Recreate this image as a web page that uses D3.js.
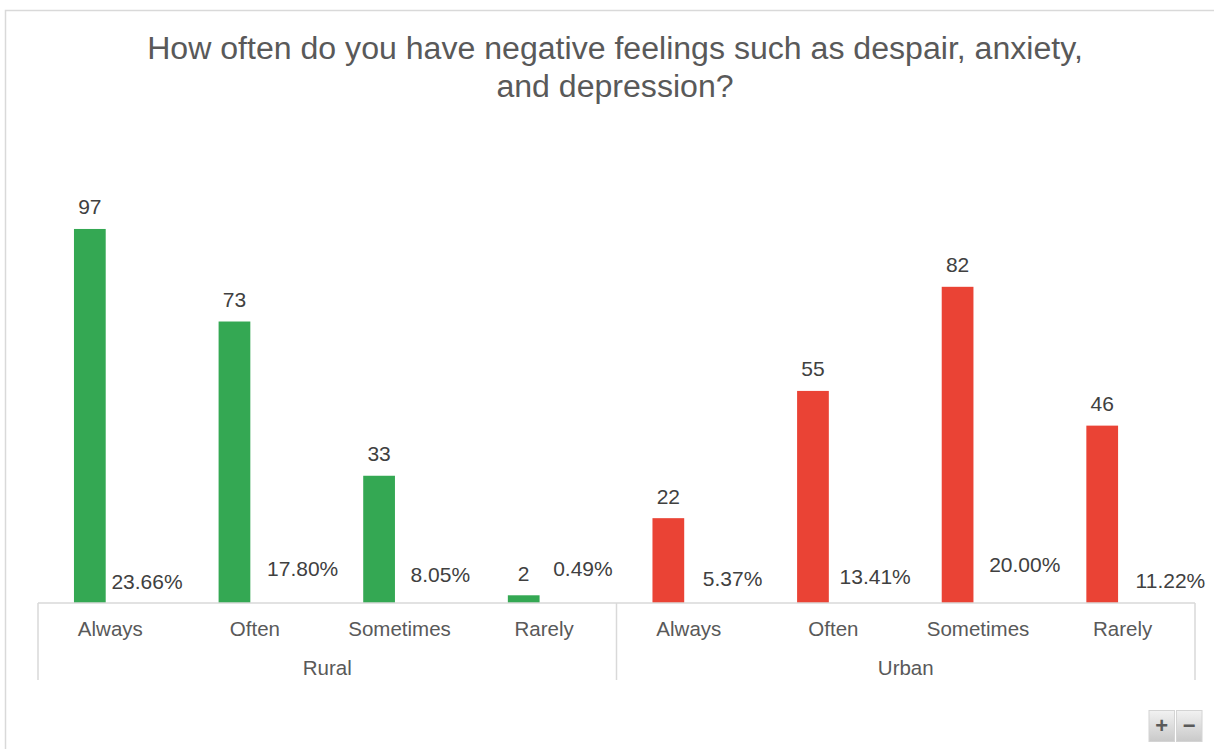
<!DOCTYPE html>
<html>
<head>
<meta charset="utf-8">
<script src="https://cdn.jsdelivr.net/npm/d3@7/dist/d3.min.js"></script>
<style>
  html, body { margin: 0; padding: 0; background: #ffffff; }
  svg { display: block; }
  text { font-family: "Liberation Sans", Arial, Helvetica, sans-serif; }
</style>
</head>
<body>
<svg id="chart" width="1214" height="749"></svg>
<script>
// ---- data ----
const titleLines = ["How often do you have negative feelings such as despair, anxiety,", "and depression?"];
const groups = ["Rural", "Urban"];
const categories = ["Always", "Often", "Sometimes", "Rarely"];
const ruralCounts = [97, 73, 33, 2];
const urbanCounts = [22, 55, 82, 46];
const ruralPct = [23.66, 17.80, 8.05, 0.49];
const urbanPct = [5.37, 13.41, 20.00, 11.22];
const groupColors = ["#34A853", "#EA4335"];

// ---- layout (label nudges as placed in the original) ----
const pctLabelLift = [14, 27, 21, 27, 17, 19, 31, 15];
const pctLabelDx = [-6, 5, -2, -4, 1, -1, 4, 5];

const rows = [];
groups.forEach((g, gi) => {
  const counts = gi === 0 ? ruralCounts : urbanCounts;
  const pcts = gi === 0 ? ruralPct : urbanPct;
  categories.forEach((c, ci) => {
    rows.push({ group: g, gi, cat: c, key: g + "|" + c, count: counts[ci], pct: pcts[ci] });
  });
});

const svg = d3.select("#chart");

// outer frame
svg.append("rect")
  .attr("x", 5.5).attr("y", 10.5)
  .attr("width", 1220).attr("height", 760)
  .attr("fill", "none").attr("stroke", "#d9d9d9").attr("stroke-width", 1.5);

// title
svg.append("text")
  .attr("text-anchor", "middle")
  .attr("fill", "#595959")
  .style("font-size", "32.1px")
  .selectAll("tspan")
  .data(titleLines)
  .join("tspan")
  .attr("x", 615)
  .attr("y", (d, i) => 59 + i * 38)
  .text(d => d);

// scales
const plotLeft = 38, plotRight = 1195, baseY = 603;
const x = d3.scaleBand().domain(rows.map(d => d.key)).range([plotLeft, plotRight]).padding(0);
const sub = d3.scaleBand().domain(["count", "pct"]).range([0, x.bandwidth()])
  .paddingInner(0.498).paddingOuter(0.393).align(0.724);
const y = d3.scaleLinear().domain([0, 120]).range([baseY, baseY - 120 * 3.856]);

// bars
svg.append("g").selectAll("rect")
  .data(rows)
  .join("rect")
  .attr("x", d => x(d.key) + sub("count"))
  .attr("width", sub.bandwidth())
  .attr("y", d => y(d.count))
  .attr("height", d => y(0) - y(d.count))
  .attr("fill", d => groupColors[d.gi]);

// count labels
svg.append("g").selectAll("text")
  .data(rows)
  .join("text")
  .attr("x", d => x(d.key) + sub("count") + sub.bandwidth() / 2)
  .attr("y", d => y(d.count) - 14.5)
  .attr("text-anchor", "middle")
  .attr("fill", "#404040")
  .style("font-size", "21px")
  .text(d => d.count);

// percent labels
svg.append("g").selectAll("text")
  .data(rows)
  .join("text")
  .attr("x", (d, i) => x(d.key) + sub("pct") + sub.bandwidth() / 2 + pctLabelDx[i])
  .attr("y", (d, i) => y(0) - pctLabelLift[i])
  .attr("text-anchor", "middle")
  .attr("fill", "#404040")
  .style("font-size", "21px")
  .text(d => d.pct.toFixed(2) + "%");

// axis lines
const axisG = svg.append("g").attr("stroke", "#d9d9d9").attr("stroke-width", 1.5);
axisG.append("line").attr("x1", plotLeft).attr("x2", plotRight).attr("y1", baseY).attr("y2", baseY);
const sepX = [plotLeft, x(groups[1] + "|" + categories[0]), plotRight];
axisG.selectAll(".sep").data(sepX).join("line")
  .attr("x1", d => d).attr("x2", d => d)
  .attr("y1", baseY).attr("y2", 680);

// category labels
svg.append("g").selectAll("text")
  .data(rows)
  .join("text")
  .attr("x", d => x(d.key) + x.bandwidth() / 2)
  .attr("y", 636)
  .attr("text-anchor", "middle")
  .attr("fill", "#595959")
  .style("font-size", "20.5px")
  .text(d => d.cat);

// group labels
svg.append("g").selectAll("text")
  .data(groups)
  .join("text")
  .attr("x", g => {
    const keys = categories.map(c => g + "|" + c);
    return (x(keys[0]) + x(keys[keys.length - 1]) + x.bandwidth()) / 2;
  })
  .attr("y", 675)
  .attr("text-anchor", "middle")
  .attr("fill", "#595959")
  .style("font-size", "20.5px")
  .text(g => g);

// zoom buttons
const defs = svg.append("defs");
const grad = defs.append("linearGradient").attr("id", "btnGrad").attr("x1", 0).attr("y1", 0).attr("x2", 0).attr("y2", 1);
grad.append("stop").attr("offset", "0%").attr("stop-color", "#f2f2f2");
grad.append("stop").attr("offset", "100%").attr("stop-color", "#c9c9c9");
const buttons = ["+", "\u2212"];
const btnG = svg.append("g");
btnG.selectAll("rect").data(buttons).join("rect")
  .attr("x", (d, i) => 1149 + i * 27.5)
  .attr("y", 710.5)
  .attr("width", 25.5).attr("height", 31)
  .attr("fill", "url(#btnGrad)")
  .attr("stroke", "#d4d4d4").attr("stroke-width", 1);
btnG.selectAll("text").data(buttons).join("text")
  .attr("x", (d, i) => 1149 + i * 27.5 + 12.75)
  .attr("y", 733)
  .attr("text-anchor", "middle")
  .attr("fill", "#5a5a5a")
  .style("font-size", "22px")
  .style("font-weight", "bold")
  .text(d => d);
</script>
</body>
</html>
